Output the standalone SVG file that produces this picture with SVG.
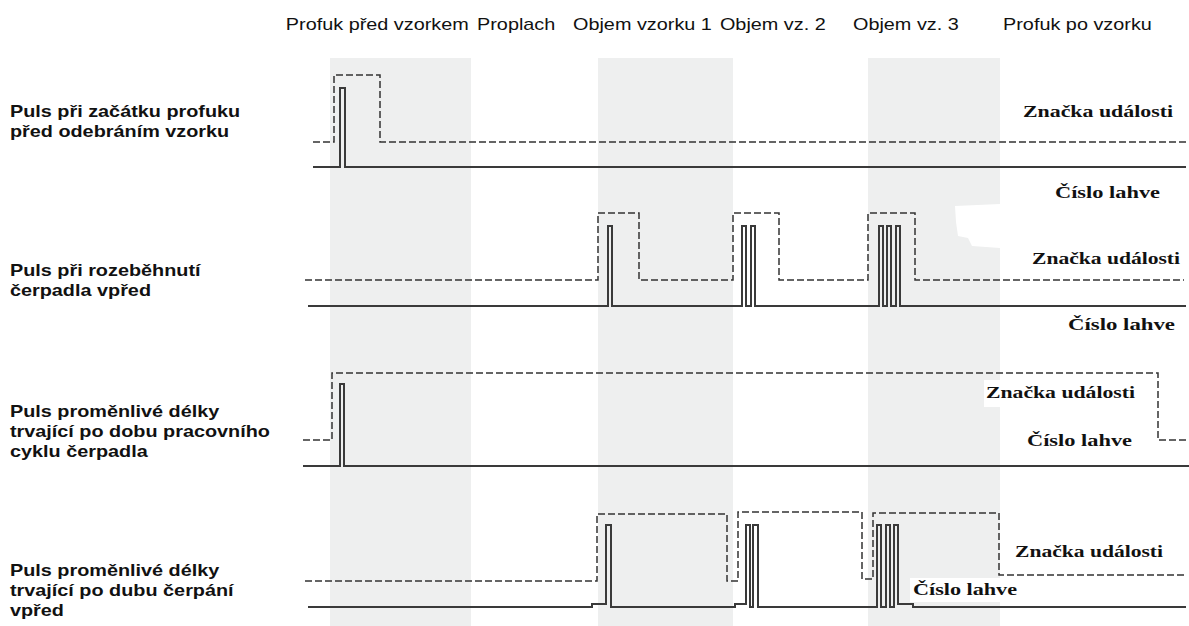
<svg xmlns="http://www.w3.org/2000/svg" width="1189" height="626" viewBox="0 0 1189 626">
<style>
.col{fill:#eeefef}
.hdr{font-family:"Liberation Sans",Arial,sans-serif;font-size:16px;fill:#111}
.lbl{font-family:"Liberation Sans",Arial,sans-serif;font-size:16px;font-weight:bold;fill:#111}
.sig{font-family:"Liberation Serif","Times New Roman",serif;font-size:16px;font-weight:bold;fill:#111}
.solid{fill:none;stroke:#3a3a3a;stroke-width:2}
.dash{fill:none;stroke:#333;stroke-width:1.5;stroke-dasharray:7 3}
.wb{fill:#fff}
</style>
<rect width="1189" height="626" fill="#fff"/>
<g id="columns">
<rect class="col" x="330" y="58" width="141" height="568"/>
<rect class="col" x="598" y="58" width="135" height="568"/>
<rect class="col" x="868" y="58" width="132" height="568"/>
<polygon class="wb" points="955,206 1000,204 1000,248 972,246 968,238 958,236 956,222"/>
</g>
<g id="header" transform="scale(1.24,1)">
<text class="hdr" x="230.5" y="30">Profuk před vzorkem</text>
<text class="hdr" x="384.7" y="30">Proplach</text>
<text class="hdr" x="462.1" y="30">Objem vzorku 1</text>
<text class="hdr" x="580.6" y="30">Objem vz. 2</text>
<text class="hdr" x="687.9" y="30">Objem vz. 3</text>
<text class="hdr" x="808.9" y="30">Profuk po vzorku</text>
</g>
<g id="row1" transform="scale(1.24,1)">
<text class="lbl" x="8" y="117">Puls při začátku profuku</text>
<text class="lbl" x="8" y="137">před odebráním vzorku</text>
</g>
<g id="row2" transform="scale(1.24,1)">
<text class="lbl" x="8" y="276">Puls při rozeběhnutí</text>
<text class="lbl" x="8" y="296">čerpadla vpřed</text>
</g>
<g id="row3" transform="scale(1.24,1)">
<text class="lbl" x="8" y="417">Puls proměnlivé délky</text>
<text class="lbl" x="8" y="437">trvající po dobu pracovního</text>
<text class="lbl" x="8" y="457">cyklu čerpadla</text>
</g>
<g id="row4" transform="scale(1.24,1)">
<text class="lbl" x="8" y="576">Puls proměnlivé délky</text>
<text class="lbl" x="8" y="596">trvající po dubu čerpání</text>
<text class="lbl" x="8" y="616">vpřed</text>
</g>
<g id="connectors">
<path class="dash" d="M313,142 H334 V75 H380 V142 H1186"/>
<path class="solid" d="M313,167 H340 V88 H345 V167 H1186"/>
<path class="dash" d="M305,280 H598 V213 H639 V280 H733 V213 H779 V280 H868 V213 H915 V280 H1184"/>
<path class="solid" d="M308,306 H608 V226 H612 V306 H742 V226 H746 V306 H751 V226 H755 V306 H879 V226 H883 V306 H887 V226 H891 V306 H896 V226 H900 V306 H1186"/>
<path class="dash" d="M303,440 H332 V373 H1158 V440 H1189"/>
<path class="solid" d="M303,466 H340 V384 H344 V466 H1189"/>
<path class="dash" d="M305,581 H597 V514 H727 V581 H738 V512 H862 V579 H873 V513 H999 V575 H1186"/>
<path class="solid" d="M308,607 H592 V604 H606 V525 H611 V607 H735 V604 H746 V525 H750 V607 H753 V525 H758 V607 H877 V525 H881 V607 H886 V525 H890 V607 H894 V525 H898 V604 H913 V607 H1186"/>
</g>
<g id="signal-labels">
<text class="sig" x="1023" y="117" textLength="150" lengthAdjust="spacingAndGlyphs">Značka události</text>
<text class="sig" x="1055" y="198" textLength="105" lengthAdjust="spacingAndGlyphs">Číslo lahve</text>
<text class="sig" x="1032" y="264" textLength="148" lengthAdjust="spacingAndGlyphs">Značka události</text>
<text class="sig" x="1068" y="330" textLength="107" lengthAdjust="spacingAndGlyphs">Číslo lahve</text>
<rect class="wb" x="984" y="380" width="160" height="27"/>
<text class="sig" x="986" y="398" textLength="149" lengthAdjust="spacingAndGlyphs">Značka události</text>
<rect class="wb" x="1024" y="430" width="114" height="25"/>
<text class="sig" x="1027" y="446" textLength="105" lengthAdjust="spacingAndGlyphs">Číslo lahve</text>
<text class="sig" x="1015" y="557" textLength="148" lengthAdjust="spacingAndGlyphs">Značka události</text>
<rect class="wb" x="910" y="578" width="110" height="24"/>
<text class="sig" x="913" y="595" textLength="104" lengthAdjust="spacingAndGlyphs">Číslo lahve</text>
</g>
</svg>
